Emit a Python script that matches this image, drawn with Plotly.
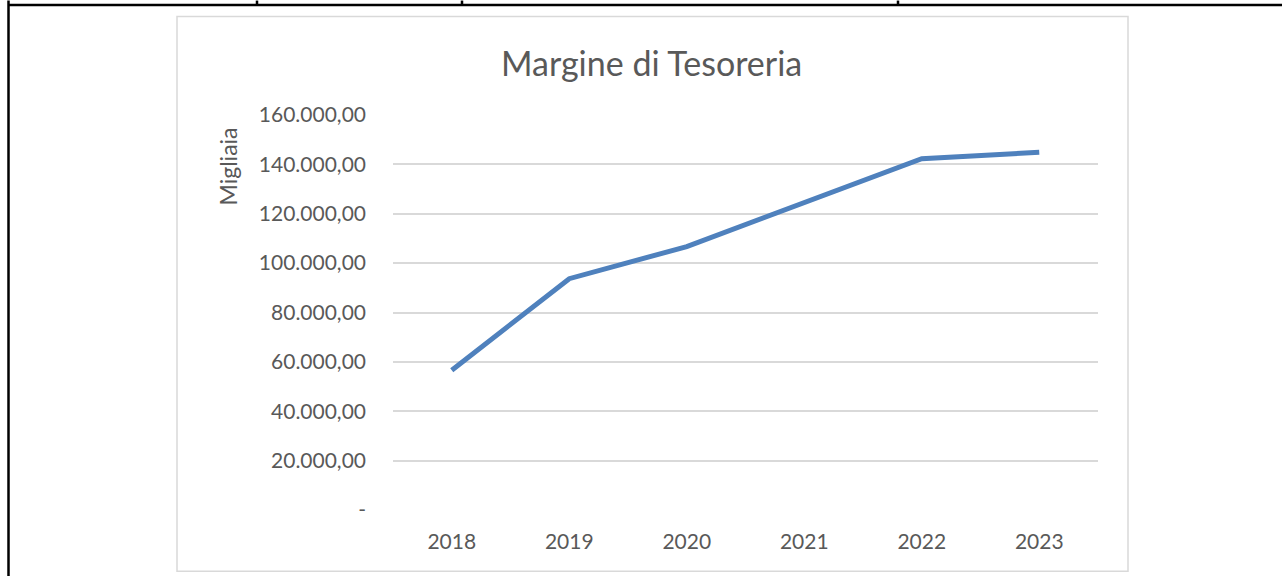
import plotly.graph_objects as go

# dati
anni = ["2018", "2019", "2020", "2021", "2022", "2023"]
margine = [56600, 93700, 106700, 124500, 142300, 144900]

tick_vals = [0, 20000, 40000, 60000, 80000, 100000, 120000, 140000, 160000]
tick_text = ["-", "20.000,00", "40.000,00", "60.000,00", "80.000,00",
             "100.000,00", "120.000,00", "140.000,00", "160.000,00"]

W, H = 1282, 576
# area del grafico in pixel
L, R, T, B = 393, 1098, 114.5, 509.7


def px_x(x):
    return (x - L) / (R - L)


def px_y(y):
    return (B - y) / (B - T)


fig = go.Figure()

fig.add_trace(go.Scatter(
    x=anni,
    y=margine,
    mode="lines",
    line=dict(color="#4F81BD", width=5),
    showlegend=False,
    hoverinfo="x+y",
))

# cornice del grafico (stile Excel)
fig.add_shape(type="rect", xref="paper", yref="paper",
              x0=px_x(177), x1=px_x(1128), y0=px_y(571), y1=px_y(16),
              line=dict(color="#D9D9D9", width=1.5), layer="below")

# bordi della tabella del documento
nero = dict(color="black", width=2.5)
fig.add_shape(type="line", xref="paper", yref="paper",
              x0=px_x(8), x1=px_x(1282), y0=px_y(4.5), y1=px_y(4.5), line=nero)
fig.add_shape(type="line", xref="paper", yref="paper",
              x0=px_x(8.5), x1=px_x(8.5), y0=px_y(0), y1=px_y(576), line=nero)
for xv in [257, 462, 898]:
    fig.add_shape(type="line", xref="paper", yref="paper",
                  x0=px_x(xv), x1=px_x(xv), y0=px_y(0), y1=px_y(4.5), line=nero)

# titolo
fig.add_annotation(text="Margine di Tesoreria", xref="paper", yref="paper",
                   x=px_x(651), y=px_y(62), showarrow=False,
                   font=dict(size=34, color="#595959"),
                   xanchor="center", yanchor="middle")

# etichetta unità
fig.add_annotation(text="Migliaia", xref="paper", yref="paper",
                   x=px_x(228), y=px_y(166), showarrow=False, textangle=-90,
                   font=dict(size=23, color="#595959"),
                   xanchor="center", yanchor="middle")

fig.update_layout(
    width=W,
    height=H,
    margin=dict(l=L, r=W - R, t=T, b=H - B, autoexpand=False),
    paper_bgcolor="white",
    plot_bgcolor="white",
    font=dict(family="Lato, Calibri, sans-serif", color="#595959", size=21),
    xaxis=dict(
        type="category",
        range=[-0.5, 5.5],
        showgrid=False,
        zeroline=False,
        showline=False,
        ticks="",
        ticklabelstandoff=17,
        tickfont=dict(size=21, color="#595959"),
    ),
    yaxis=dict(
        range=[0, 160000],
        tickvals=tick_vals,
        ticktext=tick_text,
        showgrid=True,
        gridcolor="#D9D9D9",
        gridwidth=1.5,
        zeroline=False,
        showline=False,
        ticks="",
        ticklabelstandoff=26,
        tickfont=dict(size=21, color="#595959"),
    ),
)

# niente margine della pagina, così le coordinate in pixel tornano
fig.write_html("out.html",
               config={"displayModeBar": False},
               post_script="document.body.style.margin='0';document.body.style.overflow='hidden';")
